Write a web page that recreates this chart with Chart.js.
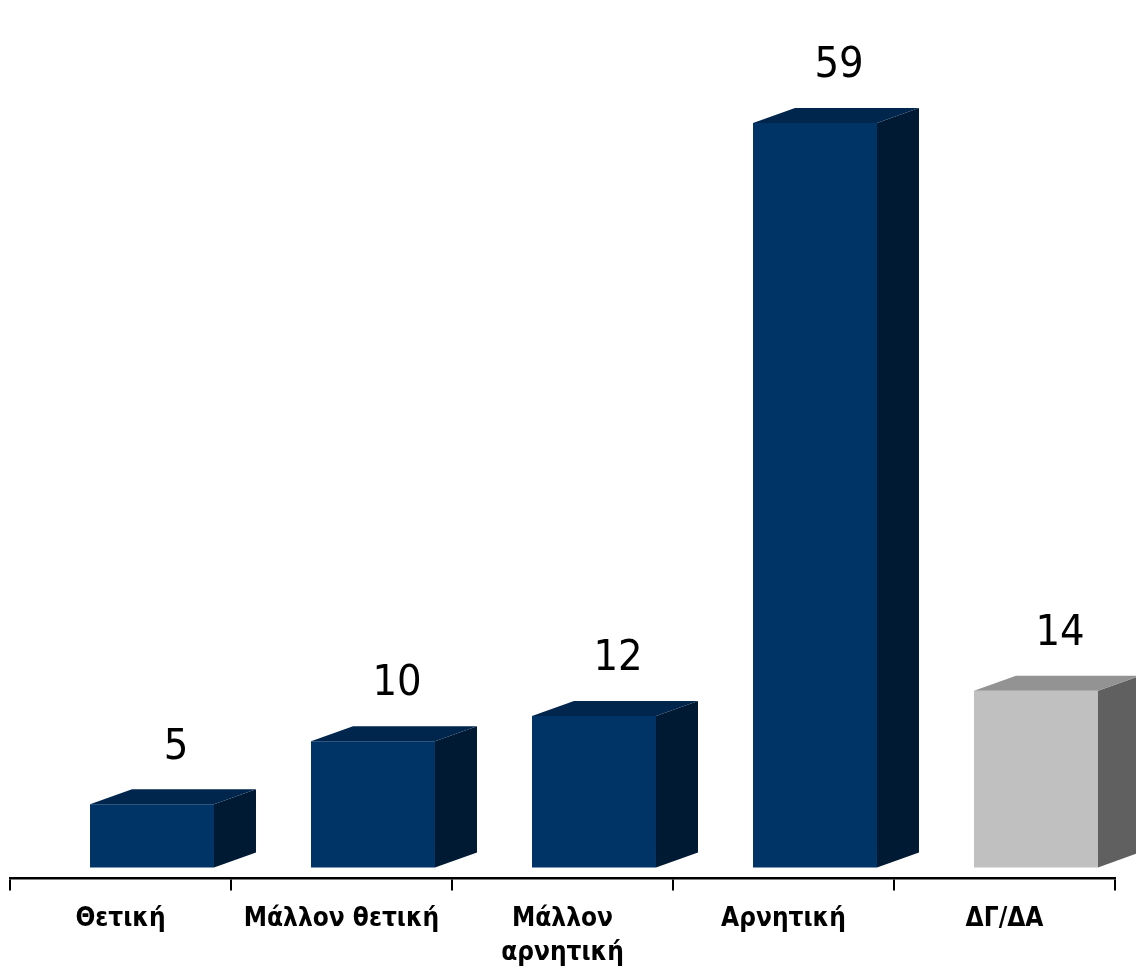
<!DOCTYPE html>
<html lang="el">
<head>
  <meta charset="UTF-8">
  <title>Γράφημα</title>
  <script src="https://cdn.jsdelivr.net/npm/chart.js"></script>
  <style>
    html, body { margin: 0; padding: 0; background: #ffffff; overflow: hidden; }
    .box { width: 1136px; height: 980px; }
  </style>
</head>
<body>
  <div class="box">
    <canvas id="grafico" width="1136" height="980"></canvas>
  </div>
<script>
// dados do gráfico
var categorias = ['Θετική', 'Μάλλον θετική', ['Μάλλον', 'αρνητική'], 'Αρνητική', 'ΔΓ/ΔΑ'];
var valores = [5, 10, 12, 59, 14];

// cores: frente, topo, lado (último é cinza)
var corFrente = ['#003366', '#003366', '#003366', '#003366', '#c0c0c0'];
var corTopo   = ['#00264d', '#00264d', '#00264d', '#00264d', '#939393'];
var corLado   = ['#001a33', '#001a33', '#001a33', '#001a33', '#606060'];

var FONTE = '"Liberation Sans Narrow", "DejaVu Sans Condensed", sans-serif';
var PROF_X = 42;   // profundidade 3D
var PROF_Y = 15;
var DESLOC = 31.5; // barra deslocada à direita dentro da categoria

var barras3d = {
  id: 'barras3d',
  beforeDatasetsDraw: function(chart) {
    chart.ctx.save();
    chart.ctx.translate(DESLOC, 0);
  },
  afterDatasetsDraw: function(chart) {
    var ctx = chart.ctx;
    var meta = chart.getDatasetMeta(0);
    meta.data.forEach(function(bar, i) {
      var p = bar.getProps(['x', 'y', 'base', 'width'], true);
      var esq = p.x - p.width / 2;
      var dir = p.x + p.width / 2;
      // lado
      ctx.fillStyle = corLado[i];
      ctx.beginPath();
      ctx.moveTo(dir, p.y);
      ctx.lineTo(dir + PROF_X, p.y - PROF_Y);
      ctx.lineTo(dir + PROF_X, p.base - PROF_Y);
      ctx.lineTo(dir, p.base);
      ctx.closePath();
      ctx.fill();
      // topo
      ctx.fillStyle = corTopo[i];
      ctx.beginPath();
      ctx.moveTo(esq, p.y);
      ctx.lineTo(esq + PROF_X, p.y - PROF_Y);
      ctx.lineTo(dir + PROF_X, p.y - PROF_Y);
      ctx.lineTo(dir, p.y);
      ctx.closePath();
      ctx.fill();
      // rótulo do valor
      ctx.fillStyle = '#000000';
      ctx.font = '43px ' + FONTE;
      ctx.textAlign = 'center';
      ctx.textBaseline = 'middle';
      ctx.fillText(String(valores[i]), p.x + PROF_X / 2 + 3, p.y - 57);
    });
    ctx.restore();
  }
};

var ctx = document.getElementById('grafico').getContext('2d');
var myChart = new Chart(ctx, {
  type: 'bar',
  data: {
    labels: categorias,
    datasets: [{
      data: valores,
      backgroundColor: corFrente,
      borderWidth: 0,
      categoryPercentage: 1,
      barPercentage: 0.561
    }]
  },
  options: {
    responsive: false,
    animation: false,
    layout: { padding: { left: 10, right: 21, top: 0, bottom: -2 } },
    plugins: { legend: { display: false }, tooltip: { enabled: false } },
    scales: {
      x: {
        grid: {
          display: true,
          offset: true,
          drawOnChartArea: false,
          drawTicks: true,
          tickLength: 12,
          color: '#000000',
          lineWidth: 2
        },
        border: { display: true, color: '#000000', width: 2.5 },
        ticks: {
          color: '#000000',
          padding: 12,
          maxRotation: 0,
          autoSkip: false,
          font: { family: FONTE, size: 26, weight: 'bold', lineHeight: 1.3 }
        }
      },
      y: {
        display: false,
        min: -0.87,
        max: 68.75
      }
    }
  },
  plugins: [barras3d]
});
</script>
</body>
</html>
